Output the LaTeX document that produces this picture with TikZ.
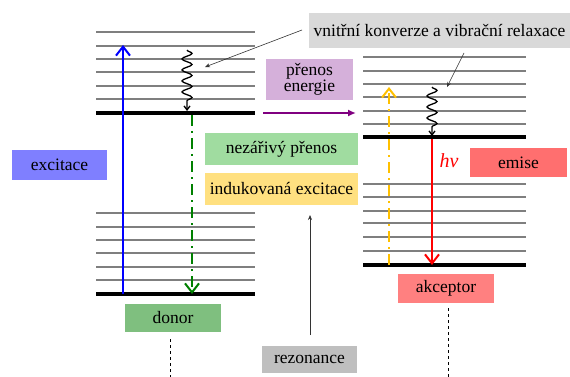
\documentclass[tikz,border=0pt]{standalone}
\usepackage{fontspec}
\setmainfont{Liberation Serif}
\newfontfamily\lbfont{Liberation Serif}
\usetikzlibrary{arrows.meta,decorations.pathmorphing}
\definecolor{lvlgray}{HTML}{7F7F7F}
\definecolor{cgray}{HTML}{D9D9D9}
\definecolor{cgray2}{HTML}{BFBFBF}
\definecolor{clav}{HTML}{D5B0DA}
\definecolor{cgreenl}{HTML}{A0DCA0}
\definecolor{cyell}{HTML}{FFE080}
\definecolor{cblue}{HTML}{7F7FFF}
\definecolor{cred}{HTML}{FF6F6F}
\definecolor{cred2}{HTML}{FF8080}
\definecolor{cgreen}{HTML}{7FBF7F}
\definecolor{dgreen}{HTML}{008000}
\definecolor{cyarrow}{HTML}{FFC000}
\definecolor{cpurple}{HTML}{800080}
\tikzset{
  lvl/.style={draw=lvlgray,line width=1.4pt},
  gnd/.style={draw=black,line width=3.5pt},
  lbl/.style={rectangle,inner sep=0pt,font=\lbfont\fontsize{17.5}{18}\selectfont,text=black,align=center},
  trans/.style={line width=2pt,-{Straight Barb[length=9pt,width=14pt,line width=2pt]}},
  dashdot/.style={dash pattern=on 11pt off 5pt on 2pt off 5pt},
  wavy/.style={draw=black,line width=1.3pt,decorate,decoration={snake,amplitude=5pt,segment length=11pt,pre length=0pt,post length=5pt},-{Straight Barb[length=4pt,width=6pt]}},
  note/.style={draw=black!80,line width=0.6pt,-{Stealth[length=5pt,width=4pt]}}
}
\begin{document}
\begin{tikzpicture}[x=1pt,y=-1pt]
\useasboundingbox (0,0) rectangle (570,377);
% donor levels
\foreach \yy in {32,46,59,72,86,99,213,227,240,253,267,280}
  \draw[lvl] (96,\yy) -- (255,\yy);
\draw[gnd] (96,113) -- (255,113);
\draw[gnd] (96,294) -- (255,294);
% acceptor levels
\foreach \yy in {57,71,84,97,111,124,184,197,211,223,237,251}
  \draw[lvl] (363,\yy) -- (526,\yy);
\draw[gnd] (363,137) -- (526,137);
\draw[gnd] (363,265) -- (526,265);

% boxes
\node[lbl,fill=cgray,minimum width=261pt,minimum height=35pt] (vnk) at (439.5,30.5) {vnitřní konverze a vibrační relaxace};
\node[lbl,fill=clav,minimum width=87pt,minimum height=41pt,font=\lbfont\fontsize{17.5}{16}\selectfont] (pe) at (309.5,79.5) {přenos\\energie};
\node[lbl,fill=cgreenl,minimum width=153pt,minimum height=32pt] (np) at (281.5,149) {nezářivý přenos};
\node[lbl,fill=cyell,minimum width=153pt,minimum height=32pt] (ie) at (281.5,189) {indukovaná excitace};
\node[lbl,fill=cblue,minimum width=95pt,minimum height=30pt] (exc) at (59.5,165) {excitace};
\node[lbl,fill=cred,minimum width=97pt,minimum height=29pt] (emi) at (518.5,162.5) {emise};
\node[lbl,fill=cgreen,minimum width=96pt,minimum height=28pt] (don) at (173,318) {donor};
\node[lbl,fill=cred2,minimum width=96pt,minimum height=29pt] (akc) at (446,288.5) {akceptor};
\node[lbl,fill=cgray2,minimum width=95pt,minimum height=27pt] (rez) at (309.5,359.5) {rezonance};
\node[lbl,text=red,font=\lbfont\fontsize{20}{20}\selectfont\itshape] (hv) at (449,161) {hv};

% coordinates
\coordinate (dg) at (123,294);
\coordinate (dx) at (123,45);
\coordinate (gs) at (192,115);
\coordinate (ge) at (192,294);
\coordinate (ys) at (389,265);
\coordinate (ye) at (389,87);
\coordinate (rs) at (432,139);
\coordinate (re) at (432,265);
\coordinate (w1s) at (187,50);
\coordinate (w1e) at (187,111);
\coordinate (w2s) at (432,87);
\coordinate (w2e) at (432,136);
\coordinate (ps) at (263,113);
\coordinate (pe2) at (356,113);
\coordinate (n1s) at (302,30);
\coordinate (n1e) at (205,67);
\coordinate (n2s) at (464,53);
\coordinate (n2e) at (447,87);
\coordinate (dd1) at (170,339);
\coordinate (dd2) at (170,377);
\coordinate (ad1) at (448,308);
\coordinate (ad2) at (448,377);
\coordinate (rz1) at (310,335);
\coordinate (rz2) at (310,215);

% transitions
\draw[trans,draw=blue] (dg) -- (dx);
\draw[trans,draw=dgreen,dashdot] (gs) -- (ge);
\draw[trans,draw=cyarrow,dashdot] (ys) -- (ye);
\draw[trans,draw=red] (rs) -- (re);
\draw[wavy] (w1s) -- (w1e);
\draw[wavy] (w2s) -- (w2e);
\draw[draw=cpurple,line width=1.6pt,-{Latex[length=8pt,width=7pt]}] (ps) -- (pe2);
\draw[note] (n1s) -- (n1e);
\draw[note] (n2s) -- (n2e);
\draw[note] (rz1) -- (rz2);
\draw[dash pattern=on 3pt off 3pt,line width=0.8pt] (dd1) -- (dd2);
\draw[dash pattern=on 3pt off 3pt,line width=0.8pt] (ad1) -- (ad2);
\end{tikzpicture}
\end{document}
